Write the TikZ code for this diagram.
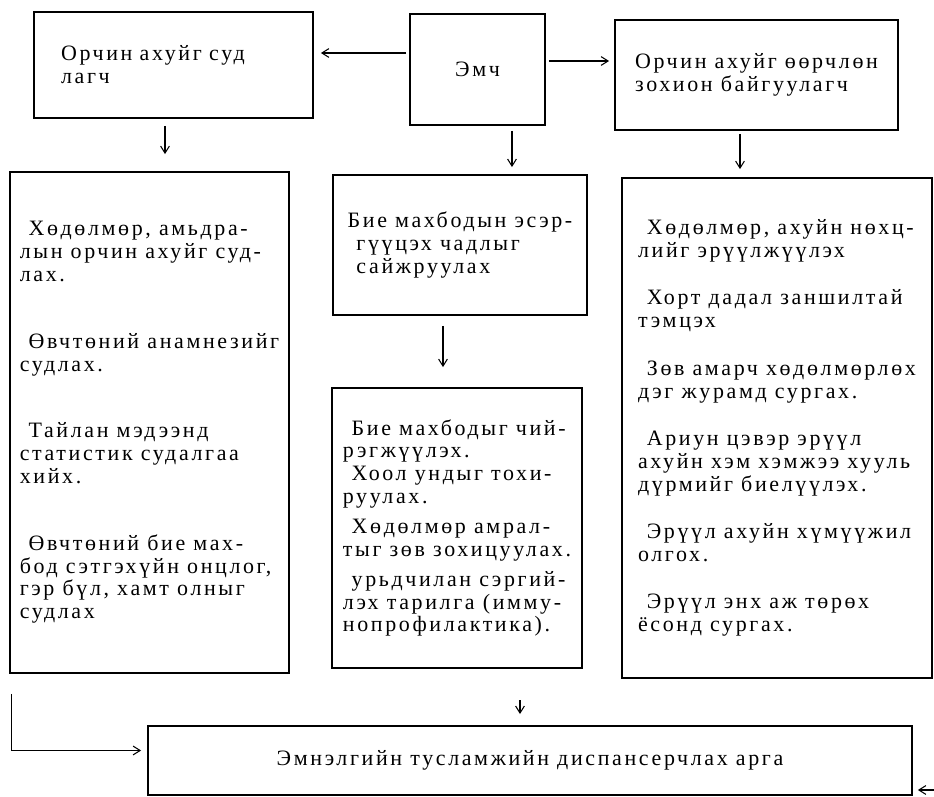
\documentclass[tikz,border=0pt]{standalone}
\usepackage{fontspec}
\setmainfont{Liberation Serif}[LetterSpace=12]
\usetikzlibrary{arrows.meta,positioning,calc}
\tikzset{
  frame/.style={draw,line width=1.1pt,align=left,
                font=\fontsize{12.5}{13}\selectfont},
  link/.style={-{Straight Barb[length=4pt,width=5pt]},line width=0.6pt}
}
\newcommand\pind{\hspace*{5pt}}

\begin{document}
\begin{tikzpicture}[x=0.02cm,y=-0.02cm]
  \useasboundingbox (0,0) rectangle (934,797);
  % top row
  \node[frame,minimum width=5.58cm,minimum height=2.12cm,text width=4.5cm]
    (envstudy) at (173.5,65) {Орчин ахуйг суд\\лагч};
  \node[frame,minimum width=2.7cm,minimum height=2.22cm]
    (doctor) at (477.5,69.5) {Эмч};
  \node[frame,minimum width=5.66cm,minimum height=2.2cm]
    (envorg) at (756.5,75) {Орчин ахуйг өөрчлөн\\зохион байгуулагч};
  % task columns
  \node[frame,minimum width=5.58cm,minimum height=10.02cm]
    (studytasks) at (149.5,422.5)
    {\pind Хөдөлмөр, амьдра-\\лын орчин ахуйг суд-\\лах.\\[25pt]
     \pind Өвчтөний анамнезийг\\судлах.\\[25pt]
     \pind Тайлан мэдээнд\\статистик судалгаа\\хийх.\\[25pt]
     \pind Өвчтөний бие мах-\\бод сэтгэхүйн онцлог,\\гэр бүл, хамт олныг\\судлах};
  \node[frame,minimum width=5.08cm,minimum height=2.8cm]
    (resist) at (460,245)
    {Бие махбодын эсэр-\\\pind гүүцэх чадлыг\\\pind сайжруулах};
  \node[frame,minimum width=5.0cm,minimum height=5.6cm]
    (resisttasks) at (457,528)
    {\pind Бие махбодыг чий-\\рэгжүүлэх.\\
     \pind Хоол ундыг тохи-\\руулах.\\[4pt]
     \pind Хөдөлмөр амрал-\\тыг зөв зохицуулах.\\[4pt]
     \pind урьдчилан сэргий-\\лэх тарилга (имму-\\нопрофилактика).};
  \node[frame,minimum width=6.2cm,minimum height=10cm]
    (orgtasks) at (777,428)
    {\pind Хөдөлмөр, ахуйн нөхц-\\лийг эрүүлжүүлэх\\[14pt]
     \pind Хорт дадал заншилтай\\тэмцэх\\[14pt]
     \pind Зөв амарч хөдөлмөрлөх\\дэг журамд сургах.\\[14pt]
     \pind Ариун цэвэр эрүүл\\ахуйн хэм хэмжээ хууль\\дүрмийг биелүүлэх.\\[14pt]
     \pind Эрүүл ахуйн хүмүүжил\\олгох.\\[14pt]
     \pind Эрүүл энх аж төрөх\\ёсонд сургах.};
  % bottom
  \node[frame,minimum width=15.28cm,minimum height=1.38cm]
    (dispensary) at (530,760.5) {Эмнэлгийн тусламжийн диспансерчлах арга};
  \coordinate (midin) at (520,700);
  \coordinate (rightin) at (934,790);

  \draw[link,shorten <=0.06cm,shorten >=0.14cm]
    ([yshift=0.33cm]doctor.west) -- ([yshift=0.33cm]doctor.west -| envstudy.east);
  \draw[link,shorten <=0.06cm,shorten >=0.1cm]
    ([yshift=0.17cm]doctor.east) -- ([yshift=0.17cm]doctor.east -| envorg.west);
  \draw[link,shorten <=0.14cm,shorten >=0.34cm]
    ([xshift=-0.17cm]envstudy.south) -- ([xshift=-0.17cm]envstudy.south |- studytasks.north);
  \draw[link,shorten <=0.1cm,shorten >=0.14cm]
    ([xshift=0.69cm]doctor.south) -- ([xshift=0.69cm]doctor.south |- resist.north);
  \draw[link,shorten <=0.06cm,shorten >=0.16cm]
    ([xshift=-0.33cm]envorg.south) -- ([xshift=-0.33cm]envorg.south |- orgtasks.north);
  \draw[link,shorten <=0.2cm,shorten >=0.4cm]
    ([xshift=-0.34cm]resist.south) -- ([xshift=-0.34cm]resist.south |- resisttasks.north);
  \draw[link,shorten >=0.22cm] (midin) -- (midin |- dispensary.north);
  \draw[link,shorten <=0.4cm,shorten >=0.12cm]
    ([xshift=0.04cm]studytasks.south west) |- ([yshift=0.2cm]dispensary.west);
  \draw[link,shorten >=0.1cm] (rightin) -- (rightin -| dispensary.east);
\end{tikzpicture}
\end{document}
